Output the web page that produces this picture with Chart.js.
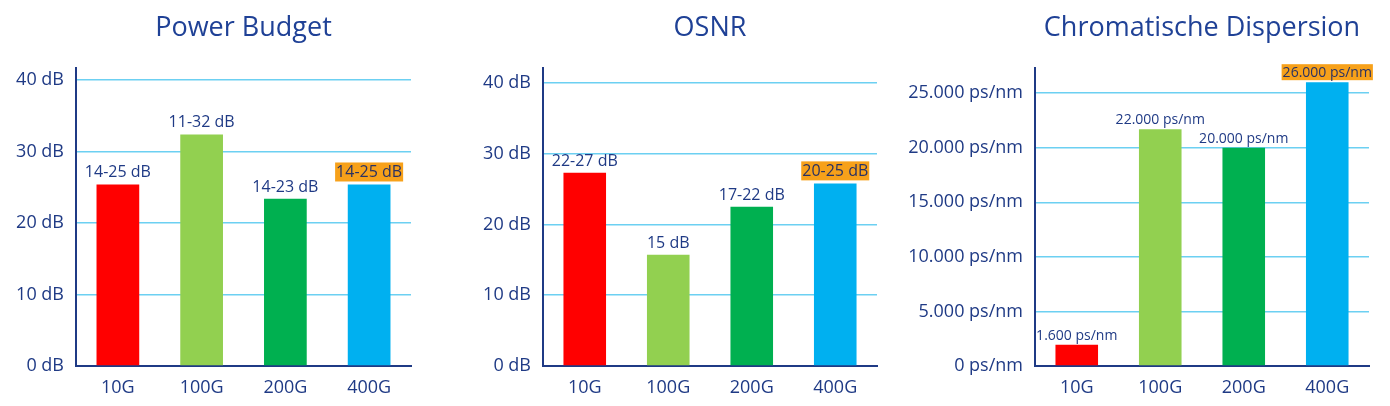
<!DOCTYPE html>
<html>
<head>
<meta charset="utf-8">
<script src="https://cdn.jsdelivr.net/npm/chart.js@4/dist/chart.umd.min.js"></script>
<style>
  body { margin: 0; background: #fff; width: 1390px; height: 406px; overflow: hidden; }
  .box { position: absolute; top: 0; height: 406px; }
</style>
</head>
<body>
<div class="box" style="left:0;width:460px"><canvas id="power" width="460" height="406"></canvas></div>
<div class="box" style="left:460px;width:440px"><canvas id="osnr" width="440" height="406"></canvas></div>
<div class="box" style="left:900px;width:490px"><canvas id="cd" width="490" height="406"></canvas></div>
<script>
const categories = ["10G", "100G", "200G", "400G"];
const barColors = ["#ff0000", "#92d050", "#00b050", "#00b0f0"];

const powerValues = [25.4, 32.4, 23.4, 25.4];
const powerLabels = ["14-25 dB", "11-32 dB", "14-23 dB", "14-25 dB"];

const osnrValues = [27.3, 15.7, 22.5, 25.8];
const osnrLabels = ["22-27 dB", "15 dB", "17-22 dB", "20-25 dB"];

const cdValues = [1950, 21700, 20000, 26000];
const cdLabels = ["1.600 ps/nm", "22.000 ps/nm", "20.000 ps/nm", "26.000 ps/nm"];

const dbTicks = [0, 10, 20, 30, 40];
const cdTicks = [0, 5000, 10000, 15000, 20000, 25000];

const FONT = "'Open Sans', 'Noto Sans', sans-serif";
const NAVY = "#1f3a85";
const GRID = "#6cd0f2";
const HIGHLIGHT = "#f7a11a";

// de-DE style thousands separator
function withDots(v) {
  return String(v).replace(/\B(?=(\d{3})+(?!\d))/g, ".");
}

const barLabels = {
  id: "barLabels",
  afterDatasetsDraw(chart, args, opts) {
    const ctx = chart.ctx;
    const meta = chart.getDatasetMeta(0);
    ctx.save();
    ctx.font = opts.size + "px " + FONT;
    ctx.textAlign = "center";
    ctx.textBaseline = "alphabetic";
    meta.data.forEach((bar, i) => {
      const text = opts.texts[i];
      const w = ctx.measureText(text).width;
      if (i === opts.highlight) {
        ctx.fillStyle = HIGHLIGHT;
        ctx.fillRect(bar.x - w / 2 - 1, bar.y - opts.gap - opts.boxH, w + 2, opts.boxH);
        ctx.fillStyle = "#2a3263";
      } else {
        ctx.fillStyle = NAVY;
      }
      ctx.fillText(text, bar.x, bar.y - opts.gap - opts.lift);
    });
    ctx.restore();
  }
};

function makeChart(id, title, values, texts, ticks, max, fmt, axisW, padRight, labelOpts) {
  return new Chart(document.getElementById(id), {
    type: "bar",
    data: {
      labels: categories,
      datasets: [{
        data: values,
        backgroundColor: barColors,
        categoryPercentage: 1,
        barPercentage: 0.51,
      }],
    },
    plugins: [barLabels],
    options: {
      responsive: false,
      animation: false,
      layout: { padding: { left: 0, right: padRight, top: 0, bottom: 0 } },
      plugins: {
        legend: { display: false },
        tooltip: { enabled: false },
        title: {
          display: true,
          text: title,
          fullSize: false,
          color: "#1f4196",
          font: { family: FONT, size: 27, weight: "normal", lineHeight: 1.2 },
          padding: { top: 12, bottom: 23.6 },
        },
        barLabels: Object.assign({ texts: texts, highlight: 3 }, labelOpts),
      },
      scales: {
        x: {
          grid: { display: false },
          border: { display: true, color: NAVY, width: 2 },
          ticks: { color: NAVY, font: { family: FONT, size: 18 }, padding: 3 },
          afterFit(scale) { scale.height = 40; },
        },
        y: {
          min: 0,
          max: max,
          afterBuildTicks(scale) { scale.ticks = ticks.map(v => ({ value: v })); },
          afterFit(scale) { scale.width = axisW; },
          grid: { color: GRID, lineWidth: 1.5, drawTicks: false },
          border: { display: true, color: NAVY, width: 2 },
          ticks: {
            color: NAVY,
            padding: 12,
            font: { family: FONT, size: 18 },
            callback: fmt,
          },
        },
      },
    },
  });
}

makeChart("power", "Power Budget", powerValues, powerLabels, dbTicks, 41.7,
  v => v + " dB", 76, 49, { size: 16, gap: 3, boxH: 19, lift: 4 });
makeChart("osnr", "OSNR", osnrValues, osnrLabels, dbTicks, 42.1,
  v => v + " dB", 83, 23, { size: 16, gap: 3, boxH: 19, lift: 4 });
makeChart("cd", "Chromatische Dispersion", cdValues, cdLabels, cdTicks, 27300,
  v => withDots(v) + " ps/nm", 135, 21, { size: 14, gap: 2, boxH: 16, lift: 3 });
</script>
</body>
</html>
